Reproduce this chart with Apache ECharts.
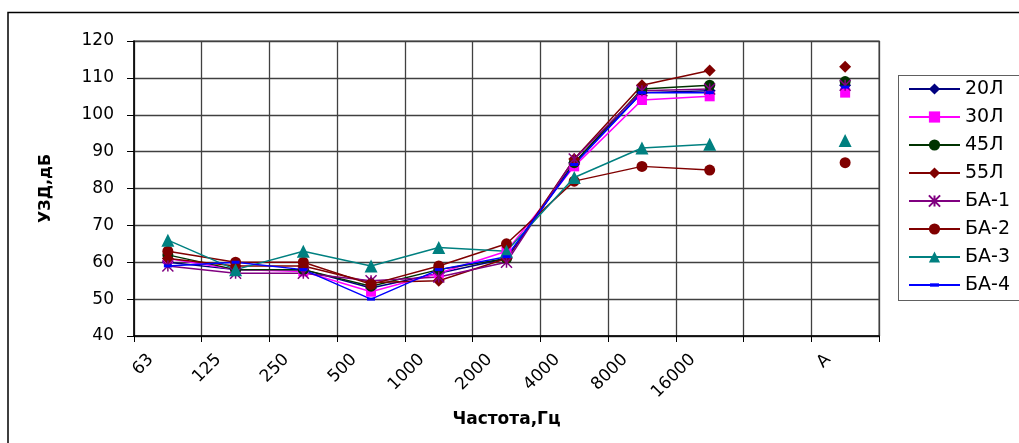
<!DOCTYPE html>
<html>
<head>
<meta charset="utf-8">
<script src="https://cdn.jsdelivr.net/npm/echarts@6/dist/echarts.min.js"></script>
<style>
  html, body { margin: 0; padding: 0; background: #fff; overflow: hidden; }
  #wrap { position: relative; width: 1019px; height: 443px; overflow: hidden; }
  #chart { width: 1019px; height: 443px; }
  /* рамка легенды, правый край за кадром */
  #legend-frame {
    position: absolute; left: 898px; top: 75px; width: 300px; height: 224px;
    border: 1.5px solid #606060; pointer-events: none;
  }
</style>
</head>
<body>
<div id="wrap">
  <div id="chart"></div>
  <div id="legend-frame"></div>
</div>
<script>
// частоты (последняя категория - уровень А)
const categories = ['63', '125', '250', '500', '1000', '2000', '4000', '8000', '16000', '', 'A'];
const yTicks = { min: 40, max: 120, interval: 10 };

const s20L = [60, 58, 58, 53, 57, 61, 87, 106, 106.5, null, 108];
const s30L = [61, 58, 57.5, 52, 57, 63, 86, 104, 105, null, 106];
const s45L = [62, 58, 58, 53.5, 58, 61, 87, 107, 108, null, 109];
const s55L = [61, 59, 59, 54.5, 55, 61, 88, 108, 112, null, 113];
const sBA1 = [59, 57, 57, 55, 56, 60, 88, 106.5, 107, null, 108];
const sBA2 = [63, 60, 60, 54, 59, 65, 82, 86, 85, null, 87];
const sBA3 = [66, 58, 63, 59, 64, 63, 83, 91, 92, null, 93];
const sBA4 = [59, 60, 58, 50, 58, 61.5, 86.5, 106, 106, null, 107.5];

const FONT = 'DejaVu Sans';
const asterisk = 'path://M0 0L10 10M10 0L0 10M5 0L5 10';
// короткая черточка в квадратной рамке, чтобы в легенде не растягивалась
const dash = 'path://M0 0M10 10M1 3.5H9V6.5H1Z';

function line(name, data, color, symbol, size, extra) {
  return Object.assign({
    name: name,
    type: 'line',
    data: data,
    connectNulls: false,
    symbol: symbol,
    symbolSize: size,
    symbolKeepAspect: true,
    showAllSymbol: true,
    lineStyle: { color: color, width: 1.5 },
    itemStyle: { color: color, borderWidth: 0 },
    emphasis: { disabled: true },
    animation: false
  }, extra || {});
}

const chart = echarts.init(document.getElementById('chart'));
chart.setOption({
  animation: false,
  graphic: [{
    // рамка всей диаграммы (правый и нижний край за кадром)
    type: 'polyline',
    silent: true,
    shape: { points: [[1100, 12.5], [8, 12.5], [8, 500]] },
    style: { fill: 'none', stroke: '#000', lineWidth: 1.5 }
  }],
  grid: {
    left: 134, right: 140, top: 41, bottom: 107,
    show: true, borderColor: '#808080', borderWidth: 1.5
  },
  legend: {
    orient: 'vertical',
    left: 899, top: 76,
    padding: [3, 0, 5, 9],
    itemWidth: 51, itemHeight: 14, itemGap: 8,
    borderWidth: 0,
    textStyle: { fontFamily: FONT, fontSize: 19, color: '#000', lineHeight: 20 },
    data: ['20Л', '30Л', '45Л', '55Л', 'БА-1', 'БА-2', 'БА-3', 'БА-4']
  },
  xAxis: {
    type: 'category',
    data: categories,
    boundaryGap: true,
    name: 'Частота,Гц',
    nameLocation: 'middle',
    nameGap: 75,
    nameTextStyle: { fontFamily: FONT, fontSize: 17, fontWeight: 'bold', color: '#000' },
    axisLine: { lineStyle: { color: '#000', width: 1.5 } },
    axisTick: { show: true, length: 6, lineStyle: { color: '#000' } },
    axisLabel: {
      rotate: 45, interval: 0, margin: 4,
      padding: [0, 24, 0, 0],
      fontFamily: FONT, fontSize: 17, color: '#000'
    },
    splitLine: { show: true, interval: 0, lineStyle: { color: '#404040', width: 1.3 } }
  },
  yAxis: {
    type: 'value',
    min: yTicks.min, max: yTicks.max, interval: yTicks.interval,
    name: 'УЗД,дБ',
    nameLocation: 'middle',
    nameGap: 80,
    nameTextStyle: { fontFamily: FONT, fontSize: 16, fontWeight: 'bold', color: '#000' },
    axisLine: { show: true, lineStyle: { color: '#000', width: 1.5 } },
    axisTick: { show: true, length: 7, lineStyle: { color: '#000' } },
    axisLabel: { margin: 20, fontFamily: FONT, fontSize: 17, color: '#000' },
    splitLine: { show: true, lineStyle: { color: '#404040', width: 1.3 } }
  },
  series: [
    line('20Л', s20L, '#000080', 'diamond', 12),
    line('30Л', s30L, '#FF00FF', 'rect', 10),
    line('45Л', s45L, '#003300', 'circle', 11),
    line('55Л', s55L, '#800000', 'diamond', 12),
    line('БА-1', sBA1, '#800080', asterisk, 11, {
      itemStyle: { color: '#800080', borderColor: '#800080', borderWidth: 1.5 }
    }),
    line('БА-2', sBA2, '#800000', 'circle', 11),
    line('БА-3', sBA3, '#008080', 'triangle', 13),
    line('БА-4', sBA4, '#0000FF', dash, 10)
  ]
});
</script>
</body>
</html>
